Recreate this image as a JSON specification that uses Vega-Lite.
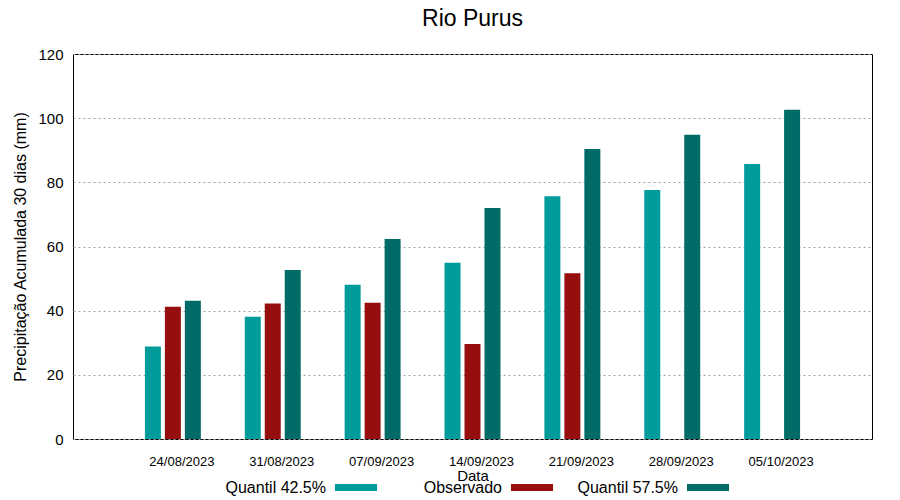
{
  "$schema": "https://vega.github.io/schema/vega-lite/v6.json",
  "width": 799,
  "height": 385,
  "autosize": {"type": "none"},
  "padding": {"left": 73, "top": 54, "right": 28, "bottom": 61},
  "background": "white",
  "title": {
    "text": "Rio Purus",
    "font": "Liberation Sans",
    "fontSize": 23,
    "fontWeight": "normal",
    "color": "black",
    "anchor": "middle",
    "baseline": "alphabetic",
    "offset": -2
  },
  "config": {
    "view": {"stroke": "black", "strokeWidth": 1},
    "font": "Liberation Sans"
  },
  "data": {
    "values": [
      {"date": "24/08/2023", "serie": "Quantil 42.5%", "value": 28.8},
      {"date": "24/08/2023", "serie": "Observado", "value": 41.2},
      {"date": "24/08/2023", "serie": "Quantil 57.5%", "value": 43.1},
      {"date": "31/08/2023", "serie": "Quantil 42.5%", "value": 38.1},
      {"date": "31/08/2023", "serie": "Observado", "value": 42.2},
      {"date": "31/08/2023", "serie": "Quantil 57.5%", "value": 52.7},
      {"date": "07/09/2023", "serie": "Quantil 42.5%", "value": 48.1},
      {"date": "07/09/2023", "serie": "Observado", "value": 42.5},
      {"date": "07/09/2023", "serie": "Quantil 57.5%", "value": 62.3},
      {"date": "14/09/2023", "serie": "Quantil 42.5%", "value": 54.9},
      {"date": "14/09/2023", "serie": "Observado", "value": 29.6},
      {"date": "14/09/2023", "serie": "Quantil 57.5%", "value": 72.0},
      {"date": "21/09/2023", "serie": "Quantil 42.5%", "value": 75.7},
      {"date": "21/09/2023", "serie": "Observado", "value": 51.7},
      {"date": "21/09/2023", "serie": "Quantil 57.5%", "value": 90.4},
      {"date": "28/09/2023", "serie": "Quantil 42.5%", "value": 77.6},
      {"date": "28/09/2023", "serie": "Quantil 57.5%", "value": 94.8},
      {"date": "05/10/2023", "serie": "Quantil 42.5%", "value": 85.7},
      {"date": "05/10/2023", "serie": "Quantil 57.5%", "value": 102.6}
    ]
  },
  "mark": {"type": "bar"},
  "encoding": {
    "x": {
      "field": "date",
      "type": "nominal",
      "sort": null,
      "scale": {"paddingInner": 0.4, "paddingOuter": 0.7},
      "axis": {
        "title": "Data",
        "titleFont": "Liberation Sans",
        "titleFontSize": 15,
        "titleFontWeight": "normal",
        "titleColor": "black",
        "titlePadding": 0,
        "labelFont": "Liberation Sans",
        "labelFontSize": 13,
        "labelColor": "black",
        "labelAngle": 0,
        "labelOffset": 9,
        "labelPadding": 16,
        "domain": false,
        "ticks": false,
        "grid": false
      }
    },
    "xOffset": {
      "field": "serie",
      "type": "nominal",
      "scale": {
        "domain": ["Quantil 42.5%", "Observado", "Quantil 57.5%"],
        "paddingInner": 0.2,
        "paddingOuter": 0.1
      }
    },
    "y": {
      "field": "value",
      "type": "quantitative",
      "scale": {"domain": [0, 120], "nice": false},
      "axis": {
        "title": "Precipitação Acumulada 30 dias (mm)",
        "titleFont": "Liberation Sans",
        "titleFontSize": 16,
        "titleFontWeight": "normal",
        "titleColor": "black",
        "titlePadding": 9,
        "values": [0, 20, 40, 60, 80, 100, 120],
        "labelFont": "Liberation Sans",
        "labelFontSize": 15,
        "labelColor": "black",
        "labelPadding": 10,
        "domain": false,
        "ticks": false,
        "grid": true,
        "gridColor": "#a0a0a0",
        "gridDash": [2, 3],
        "gridWidth": 1
      }
    },
    "color": {
      "field": "serie",
      "type": "nominal",
      "scale": {
        "domain": ["Quantil 42.5%", "Observado", "Quantil 57.5%"],
        "range": ["#009b9b", "#970e0e", "#006b67"]
      },
      "legend": {
        "title": null,
        "orient": "none",
        "direction": "horizontal",
        "legendX": 128,
        "legendY": 412.5,
        "padding": 0,
        "columnPadding": 0,
        "symbolType": "M-1,-0.1667H1V0.1667H-1Z",
        "symbolSize": 1764,
        "symbolStrokeWidth": 0,
        "symbolOpacity": 1,
        "symbolOffset": 134,
        "labelAlign": "right",
        "labelBaseline": "middle",
        "labelOffset": -51,
        "labelFont": "Liberation Sans",
        "labelFontSize": 16,
        "labelColor": "black",
        "labelLimit": 0,
        "labelExpr": "datum.label == 'Observado' ? '\u00a0\u00a0\u00a0\u00a0\u00a0Observado' : datum.label"
      }
    }
  }
}
